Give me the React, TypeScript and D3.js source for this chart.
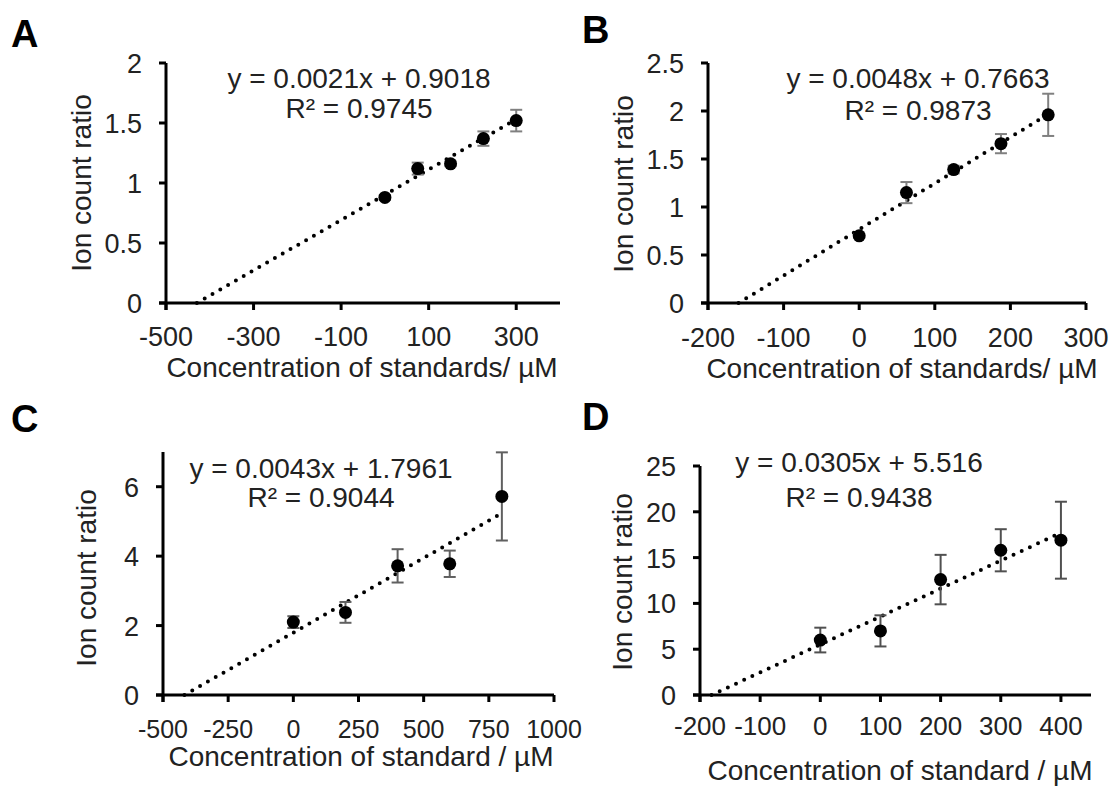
import * as d3 from "d3";
import { useEffect } from "react";

// panel A
const aX = [0, 75, 150, 225, 300];
const aY = [0.88, 1.12, 1.16, 1.37, 1.52];
const aErr = [0.02, 0.05, 0.02, 0.06, 0.09];
const aXTicks = [-500, -300, -100, 100, 300];
const aYTicks = [0, 0.5, 1, 1.5, 2];

// panel B
const bX = [0, 62.5, 125, 187.5, 250];
const bY = [0.7, 1.15, 1.39, 1.66, 1.96];
const bErr = [0.02, 0.11, 0.04, 0.1, 0.22];
const bXTicks = [-200, -100, 0, 100, 200, 300];
const bYTicks = [0, 0.5, 1, 1.5, 2, 2.5];

// panel C
const cX = [0, 200, 400, 600, 800];
const cY = [2.1, 2.38, 3.72, 3.78, 5.72];
const cErr = [0.17, 0.3, 0.48, 0.38, 1.27];
const cXTicks = [-500, -250, 0, 250, 500, 750, 1000];
const cYTicks = [0, 2, 4, 6];

// panel D
const dX = [0, 100, 200, 300, 400];
const dY = [6.0, 7.0, 12.6, 15.8, 16.9];
const dErr = [1.35, 1.7, 2.7, 2.3, 4.2];
const dXTicks = [-200, -100, 0, 100, 200, 300, 400];
const dYTicks = [0, 5, 10, 15, 20, 25];

const FONT = "'Liberation Sans', Arial, sans-serif";

type PanelProps = {
  letter: string;
  letterPos: [number, number];
  xs: number[];
  ys: number[];
  errs: number[];
  xDomain: [number, number];
  xRange: [number, number];
  yDomain: [number, number];
  yRange: [number, number];
  xTicks: number[];
  yTicks: number[];
  slope: number;
  intercept: number;
  eq: string;
  r2: string;
  eqPos: [number, number, number];
  xTitle: string;
  xTitlePos: [number, number];
  tickBase: number;
  tickFont: number;
  yTitlePos: [number, number];
  errColor: string;
};

function Panel(p: PanelProps) {
  const x = d3.scaleLinear().domain(p.xDomain).range(p.xRange);
  const y = d3.scaleLinear().domain(p.yDomain).range(p.yRange);
  const x0 = p.xRange[0];
  const y0 = p.yRange[0];
  const xStart = -p.intercept / p.slope;
  const xEnd = d3.max(p.xs) as number;
  const line = d3
    .line<number>()
    .x((v) => x(v))
    .y((v) => y(p.slope * v + p.intercept));

  return (
    <g fontFamily={FONT}>
      <text x={p.letterPos[0]} y={p.letterPos[1]} fontSize={38} fontWeight="bold">
        {p.letter}
      </text>

      {/* trend line */}
      <path
        d={line([xStart, xEnd]) || ""}
        fill="none"
        stroke="#000"
        strokeWidth={4}
        strokeLinecap="round"
        strokeDasharray="0 9"
      />

      {/* error bars */}
      {p.xs.map((v, i) => (
        <g key={"e" + i} stroke={p.errColor} strokeWidth={2}>
          <line x1={x(v)} x2={x(v)} y1={y(p.ys[i] - p.errs[i])} y2={y(p.ys[i] + p.errs[i])} />
          <line x1={x(v) - 6} x2={x(v) + 6} y1={y(p.ys[i] - p.errs[i])} y2={y(p.ys[i] - p.errs[i])} />
          <line x1={x(v) - 6} x2={x(v) + 6} y1={y(p.ys[i] + p.errs[i])} y2={y(p.ys[i] + p.errs[i])} />
        </g>
      ))}

      {/* points */}
      {p.xs.map((v, i) => (
        <circle key={"p" + i} cx={x(v)} cy={y(p.ys[i])} r={6.5} fill="#000" />
      ))}

      {/* axes */}
      <line x1={x0} x2={x0} y1={y0 + 7} y2={p.yRange[1]} stroke="#000" strokeWidth={3} />
      <line x1={x0 - 7} x2={p.xRange[1]} y1={y0} y2={y0} stroke="#000" strokeWidth={3} />
      {p.yTicks.map((t) => (
        <g key={"yt" + t}>
          <line x1={x0 - 7} x2={x0} y1={y(t)} y2={y(t)} stroke="#000" strokeWidth={3} />
          <text x={x0 - 24} y={y(t) + 10} fontSize={27} textAnchor="end" fill="#222">
            {t}
          </text>
        </g>
      ))}
      {p.xTicks.map((t) => (
        <g key={"xt" + t}>
          <line x1={x(t)} x2={x(t)} y1={y0} y2={y0 + 7} stroke="#000" strokeWidth={3} />
          <text x={x(t)} y={p.tickBase} fontSize={p.tickFont} textAnchor="middle" fill="#222">
            {t}
          </text>
        </g>
      ))}

      <text
        transform={`translate(${p.yTitlePos[0]},${p.yTitlePos[1]}) rotate(-90)`}
        fontSize={28}
        textAnchor="middle"
        dominantBaseline="central"
        fill="#222"
      >
        Ion count ratio
      </text>
      <text x={p.xTitlePos[0]} y={p.xTitlePos[1]} fontSize={28} textAnchor="middle" fill="#222">
        {p.xTitle}
      </text>

      <text x={p.eqPos[0]} y={p.eqPos[1]} fontSize={28} textAnchor="middle" fill="#222">
        {p.eq}
      </text>
      <text x={p.eqPos[0]} y={p.eqPos[2]} fontSize={28} textAnchor="middle" fill="#222">
        {p.r2}
      </text>
    </g>
  );
}

export default function App() {
  useEffect(() => {
    document.body.style.margin = "0";
  }, []);

  return (
    <svg width={1112} height={787} style={{ display: "block", background: "#fff" }}>
      <Panel
        letter="A"
        letterPos={[11, 47]}
        xs={aX}
        ys={aY}
        errs={aErr}
        xDomain={[-500, 400]}
        xRange={[166, 560]}
        yDomain={[0, 2]}
        yRange={[303, 63]}
        xTicks={aXTicks}
        yTicks={aYTicks}
        slope={0.0021}
        intercept={0.9018}
        eq="y = 0.0021x + 0.9018"
        r2="R² = 0.9745"
        eqPos={[359, 88, 118]}
        xTitle="Concentration of standards/ µM"
        xTitlePos={[362, 377]}
        tickBase={346}
        tickFont={27}
        yTitlePos={[81, 183]}
        errColor="#808080"
      />
      <Panel
        letter="B"
        letterPos={[582, 43]}
        xs={bX}
        ys={bY}
        errs={bErr}
        xDomain={[-200, 300]}
        xRange={[708, 1086]}
        yDomain={[0, 2.5]}
        yRange={[303, 63]}
        xTicks={bXTicks}
        yTicks={bYTicks}
        slope={0.0048}
        intercept={0.7663}
        eq="y = 0.0048x + 0.7663"
        r2="R² = 0.9873"
        eqPos={[918, 88, 120]}
        xTitle="Concentration of standards/ µM"
        xTitlePos={[902, 378]}
        tickBase={347}
        tickFont={27}
        yTitlePos={[623, 184]}
        errColor="#808080"
      />
      <Panel
        letter="C"
        letterPos={[11, 432]}
        xs={cX}
        ys={cY}
        errs={cErr}
        xDomain={[-500, 1000]}
        xRange={[163, 554]}
        yDomain={[0, 7]}
        yRange={[695, 452]}
        xTicks={cXTicks}
        yTicks={cYTicks}
        slope={0.0043}
        intercept={1.7961}
        eq="y = 0.0043x + 1.7961"
        r2="R² = 0.9044"
        eqPos={[321, 478, 507]}
        xTitle="Concentration of standard / µM"
        xTitlePos={[361, 766]}
        tickBase={738}
        tickFont={25}
        yTitlePos={[86, 578]}
        errColor="#606060"
      />
      <Panel
        letter="D"
        letterPos={[582, 430]}
        xs={dX}
        ys={dY}
        errs={dErr}
        xDomain={[-200, 450]}
        xRange={[700, 1091]}
        yDomain={[0, 25]}
        yRange={[695, 466]}
        xTicks={dXTicks}
        yTicks={dYTicks}
        slope={0.0305}
        intercept={5.516}
        eq="y = 0.0305x + 5.516"
        r2="R² = 0.9438"
        eqPos={[859, 472, 507]}
        xTitle="Concentration of standard / µM"
        xTitlePos={[900, 780]}
        tickBase={735}
        tickFont={26}
        yTitlePos={[622, 582]}
        errColor="#505050"
      />
    </svg>
  );
}
